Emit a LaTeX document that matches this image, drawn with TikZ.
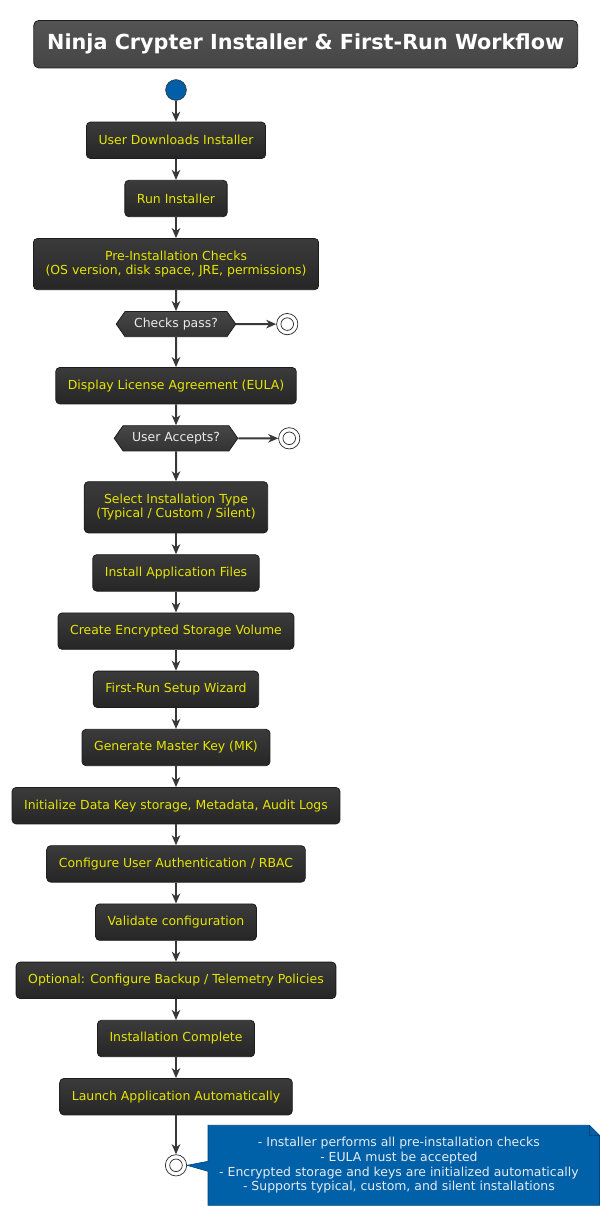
\documentclass[tikz,border=0pt]{standalone}
\usepackage{fontspec}
\setmainfont{DejaVu Sans}
\usepackage{xcolor}
\usetikzlibrary{arrows.meta, positioning, shapes.symbols, backgrounds}

\definecolor{boxtop}{HTML}{3B3B3B}
\definecolor{boxbot}{HTML}{262626}
\definecolor{boxline}{HTML}{1C1C1C}
\definecolor{flowline}{HTML}{383838}
\definecolor{steptext}{HTML}{E6E600}
\definecolor{titletop}{HTML}{545454}
\definecolor{titlebot}{HTML}{454545}
\definecolor{choicetop}{HTML}{474747}
\definecolor{choicebot}{HTML}{333333}
\definecolor{startblue}{HTML}{005FA8}
\definecolor{noteblue}{HTML}{0060A8}
\definecolor{noteline}{HTML}{00457D}
\definecolor{notetxt}{HTML}{E6ECF2}

\tikzset{
  stepbox/.style={rectangle, rounded corners=4pt, draw=boxline, line width=0.8pt,
    top color=boxtop, bottom color=boxbot, text=steptext, align=center,
    font=\fontsize{12.45}{14.5}\selectfont, inner xsep=12.1pt, inner ysep=4pt,
    minimum height=36.4pt},
  titlebox/.style={rectangle, rounded corners=5pt, draw=boxline, line width=0.8pt,
    top color=titletop, bottom color=titlebot, text=white,
    font=\fontsize{20.75}{24}\selectfont\bfseries,
    minimum width=543.9pt, minimum height=47.5pt},
  choice/.style={signal, signal to=east and west, signal pointer angle=110,
    draw=boxline, line width=0.8pt, top color=choicetop, bottom color=choicebot,
    text=white!92!black, font=\fontsize{12.45}{14.5}\selectfont,
    inner xsep=9pt, inner ysep=2pt, minimum height=25.2pt},
  startdot/.style={circle, draw=black!80, line width=0.6pt, fill=startblue,
    minimum size=20.8pt, inner sep=0pt},
  stopdot/.style={circle, draw=black!85, line width=0.7pt, fill=white,
    minimum size=21.3pt, inner sep=0pt,
    path picture={\draw[black!85, line width=0.7pt]
      (path picture bounding box.center) circle (6.3pt);}},
  notetext/.style={rectangle, text=notetxt, align=center,
    font=\fontsize{12.45}{14.6}\selectfont, inner xsep=11pt, inner ysep=4pt,
    minimum height=79.7pt},
  flow/.style={draw=flowline, line width=2pt,
    -{Stealth[length=10pt, width=8.5pt, inset=3pt]}}
}

\begin{document}
\begin{tikzpicture}[x=1pt, y=1pt, node distance=21pt]
  \useasboundingbox (0,0) rectangle (613,-1217);

  \node[titlebox] (title) at (305.7,-44.2) {Ninja Crypter Installer \& First-Run Workflow};

  \node[startdot] (start) at (176,-90) {};
  \node[stepbox] (download) [below=of start] {User Downloads Installer};
  \node[stepbox] (run) [below=of download] {Run Installer};
  \node[stepbox, minimum height=51.2pt] (precheck) [below=of run] {Pre-Installation Checks\\(OS version, disk space, JRE, permissions)};
  \node[choice] (pass) [below=of precheck] {Checks pass?};
  \node[stopdot] (stopA) [right=40pt of pass] {};
  \node[stepbox] (eula) [below=30pt of pass] {Display License Agreement (EULA)};
  \node[choice] (accept) [below=of eula] {User Accepts?};
  \node[stopdot] (stopB) [right=40pt of accept] {};
  \node[stepbox, minimum height=51.2pt] (insttype) [below=30pt of accept] {Select Installation Type\\(Typical / Custom / Silent)};
  \node[stepbox] (files) [below=of insttype] {Install Application Files};
  \node[stepbox] (volume) [below=of files] {Create Encrypted Storage Volume};
  \node[stepbox] (wizard) [below=of volume] {First-Run Setup Wizard};
  \node[stepbox] (masterkey) [below=of wizard] {Generate Master Key (MK)};
  \node[stepbox] (datakey) [below=of masterkey] {Initialize Data Key storage, Metadata, Audit Logs};
  \node[stepbox] (auth) [below=of datakey] {Configure User Authentication / RBAC};
  \node[stepbox] (validate) [below=of auth] {Validate configuration};
  \node[stepbox] (backup) [below=of validate] {Optional: Configure Backup / Telemetry Policies};
  \node[stepbox] (complete) [below=of backup] {Installation Complete};
  \node[stepbox] (launch) [below=of complete] {Launch Application Automatically};
  \node[stopdot] (stopC) [below=39pt of launch] {};

  % note on the final stop
  \node[notetext] (note) [right=21pt of stopC] {- Installer performs all pre-installation checks\\- EULA must be accepted\\- Encrypted storage and keys are initialized automatically\\- Supports typical, custom, and silent installations};
  \begin{scope}[on background layer]
    \filldraw[fill=noteblue, draw=noteline, line width=0.6pt]
      (note.north west) -- ([xshift=-0.3pt]note.north east) -- ([xshift=9.7pt, yshift=-10pt]note.north east)
      -- ([xshift=9.7pt]note.south east) -- (note.south west)
      -- ([yshift=-6pt]note.west) -- (stopC.east) -- ([yshift=4pt]note.west) -- cycle;
    \draw[noteline, line width=0.6pt] ([xshift=-0.3pt]note.north east) -- ([xshift=-0.3pt, yshift=-10pt]note.north east) -- ([xshift=9.7pt, yshift=-10pt]note.north east);
  \end{scope}

  \draw[flow] (start) -- (download);
  \draw[flow] (download) -- (run);
  \draw[flow] (run) -- (precheck);
  \draw[flow] (precheck) -- (pass);
  \draw[flow] (pass) -- (stopA);
  \draw[flow] (pass) -- (eula);
  \draw[flow] (eula) -- (accept);
  \draw[flow] (accept) -- (stopB);
  \draw[flow] (accept) -- (insttype);
  \draw[flow] (insttype) -- (files);
  \draw[flow] (files) -- (volume);
  \draw[flow] (volume) -- (wizard);
  \draw[flow] (wizard) -- (masterkey);
  \draw[flow] (masterkey) -- (datakey);
  \draw[flow] (datakey) -- (auth);
  \draw[flow] (auth) -- (validate);
  \draw[flow] (validate) -- (backup);
  \draw[flow] (backup) -- (complete);
  \draw[flow] (complete) -- (launch);
  \draw[flow] (launch) -- (stopC);
\end{tikzpicture}
\end{document}
